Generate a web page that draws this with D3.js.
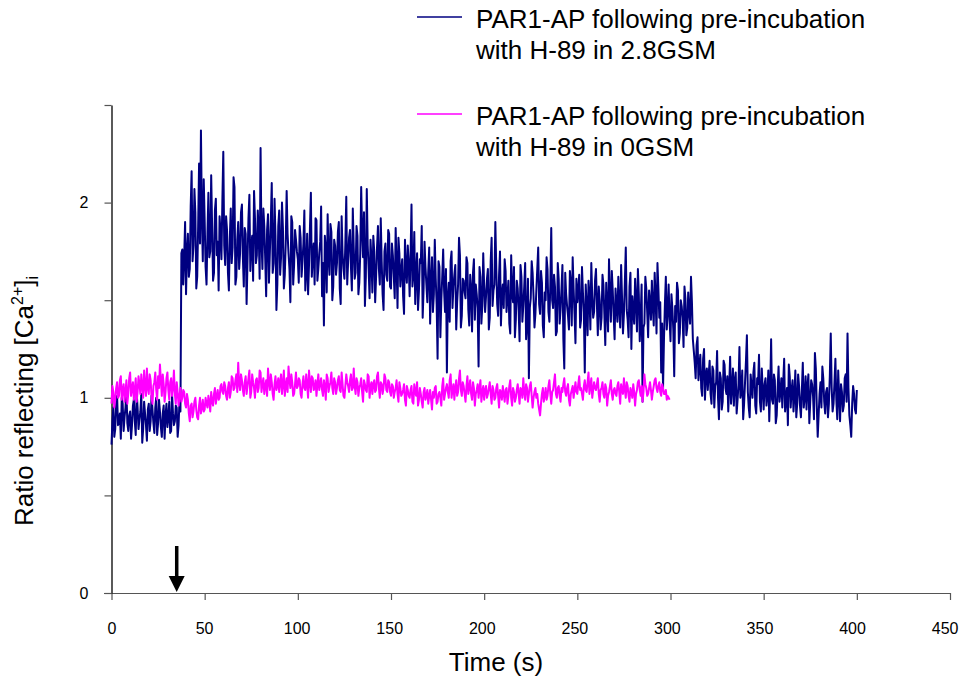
<!DOCTYPE html>
<html>
<head>
<meta charset="utf-8">
<script src="https://cdn.jsdelivr.net/npm/d3@7/dist/d3.min.js"></script>
<style>
  html, body { margin: 0; padding: 0; background: #fff; }
  svg { display: block; font-family: "Liberation Sans", Arial, sans-serif; }
</style>
</head>
<body>
<svg id="chart" width="964" height="681"></svg>
<script>
// Time axis ticks (s) and ratio ticks
const xTicks = [0, 50, 100, 150, 200, 250, 300, 350, 400, 450];
const yTicks = [0, 0.5, 1, 1.5, 2, 2.5];
const yTickLabels = ["0", "", "1", "", "2", ""];
const arrowTime = 35;     // agonist addition (s)

const seriesNames = [
  "PAR1-AP following pre-incubation|with H-89 in 2.8GSM",
  "PAR1-AP following pre-incubation|with H-89 in 0GSM"
];

// Ratio, 2.8GSM, readings at whole seconds t = 0..400
const ratio28 = [
  0.76,0.95,0.84,1.01,0.88,0.79,0.97,0.90,1.04,0.83,
  0.93,0.86,0.99,0.81,0.95,0.89,1.02,0.84,0.92,0.78,
  0.97,0.88,0.94,0.82,1.00,0.87,0.93,0.80,0.96,0.91,
  0.85,0.98,0.83,0.92,0.88,0.95,0.86,0.93,1.76,1.72,
  1.53,1.84,1.66,2.16,1.78,1.95,1.62,2.20,2.37,1.70,
  1.91,1.58,2.05,1.75,1.88,1.64,2.02,1.80,1.93,1.71,
  2.26,1.68,1.86,1.55,1.97,1.77,2.08,1.62,1.90,1.74,
  1.99,1.57,1.84,1.70,2.04,1.79,1.60,1.92,1.73,1.85,
  2.28,1.66,1.88,1.52,1.94,1.75,2.10,1.69,1.83,1.58,
  1.96,1.72,1.87,1.63,2.06,1.74,1.49,1.90,1.68,1.81,
  1.71,1.88,1.62,1.79,1.55,1.84,1.68,2.05,1.73,1.58,
  1.91,1.66,1.80,1.52,1.37,1.76,1.94,1.63,1.85,1.57,
  1.78,1.69,1.90,1.48,1.74,1.61,2.03,1.70,1.86,1.55,
  1.77,1.64,1.83,1.59,2.08,1.72,1.47,2.07,1.66,1.81,
  1.54,1.75,1.62,1.88,1.58,1.70,1.45,1.79,1.60,1.84,
  1.56,1.73,1.51,1.68,1.82,1.57,1.71,1.43,1.66,1.78,
  1.52,1.99,1.63,1.48,1.74,1.55,1.69,1.41,1.80,1.58,
  1.65,1.38,1.72,1.53,1.61,1.20,1.67,1.50,1.76,1.44,
  1.13,1.59,1.70,1.46,1.63,1.35,1.58,1.73,1.42,1.60,
  1.51,1.69,1.37,1.56,1.64,1.40,1.53,1.16,1.62,1.47,
  1.57,1.52,1.66,1.41,1.82,1.55,1.90,1.48,1.63,1.37,
  1.58,1.71,1.44,1.60,1.33,1.54,1.67,1.40,1.56,1.29,
  1.62,1.47,1.69,1.38,1.10,1.51,1.64,1.36,1.55,1.77,
  1.43,1.59,1.31,1.50,1.66,1.39,1.87,1.46,1.57,1.34,
  1.61,1.45,1.68,1.15,1.53,1.42,1.65,1.37,1.56,1.28,
  1.49,1.63,1.40,1.54,1.13,1.47,1.60,1.35,1.52,1.44,
  1.66,1.32,1.50,1.41,1.58,1.27,1.46,1.71,1.39,1.55,
  1.30,1.48,1.62,1.36,1.51,1.43,1.77,1.40,1.57,1.25,
  1.45,1.61,1.34,1.53,1.42,0.98,1.38,1.56,1.31,1.49,
  1.60,1.37,1.52,1.69,1.41,1.13,1.05,1.48,1.35,1.58,
  1.29,1.46,1.11,1.39,1.55,1.33,1.47,1.26,1.51,1.36,
  1.44,1.62,1.30,1.18,1.27,1.09,1.22,1.01,1.25,1.12,
  1.04,1.19,0.97,1.14,1.06,1.24,0.89,1.10,0.98,1.17,
  1.02,0.93,1.21,1.05,0.96,1.13,0.99,1.26,1.03,0.89,
  1.08,1.32,0.95,1.12,1.00,1.18,0.92,1.07,0.98,1.15,
  0.94,1.10,1.01,0.88,1.30,0.97,1.09,0.91,1.16,1.03,
  0.95,1.20,0.99,0.86,1.11,1.04,0.93,1.14,0.97,1.06,
  0.90,1.18,1.00,0.94,1.12,0.98,1.07,0.89,1.15,0.80,
  1.02,0.95,1.10,0.92,1.05,0.97,1.33,0.93,1.08,0.99,
  1.14,0.88,1.03,0.96,1.12,1.33,0.91,0.80,1.06,0.94,
  1.04
];
// Ratio, 2.8GSM, readings at half seconds t = 0.5..399.5
const ratio28Half = [
  0.88,0.80,0.97,0.86,0.92,1.00,0.83,0.95,0.87,0.91,
  0.79,0.96,0.88,1.03,0.84,0.93,0.77,0.98,0.86,0.94,
  0.83,1.01,0.87,0.95,0.81,0.99,0.85,0.92,0.79,0.97,
  0.90,0.82,1.02,0.86,0.96,0.80,0.99,1.74,1.58,1.90,
  1.75,1.62,1.98,1.70,2.07,1.56,1.88,1.79,1.93,2.12,
  1.67,1.84,1.72,2.14,1.60,1.96,1.73,1.55,1.85,2.01,
  1.78,1.93,1.64,1.82,1.69,2.13,1.58,1.81,1.66,1.95,
  1.72,1.87,1.48,1.92,1.65,1.83,2.06,1.69,1.96,1.61,
  1.80,1.97,1.71,1.86,1.59,1.91,1.64,2.02,1.45,1.88,
  1.63,2.00,1.56,1.79,1.84,1.66,1.93,1.58,1.86,1.75,
  1.59,1.82,1.70,1.96,1.64,1.53,1.87,1.62,1.79,1.92,
  1.60,1.74,1.98,1.69,1.83,1.54,1.71,1.89,1.50,1.81,
  1.63,1.85,1.56,1.93,1.66,1.79,1.58,1.82,1.67,1.97,
  1.61,1.88,1.53,1.74,1.85,1.95,1.62,1.78,1.51,1.71,
  1.83,1.49,1.77,1.66,1.92,1.53,1.75,1.63,1.86,1.57,
  1.79,1.62,1.87,1.46,1.74,1.65,1.52,1.81,1.59,1.69,
  1.73,1.57,1.85,1.64,1.45,1.71,1.88,1.56,1.67,1.49,
  1.77,1.59,1.44,1.81,1.48,1.70,1.31,1.62,1.55,1.66,
  1.52,1.39,1.75,1.57,1.68,1.49,1.82,1.36,1.61,1.54,
  1.72,1.45,1.63,1.34,1.71,1.58,1.46,1.67,1.38,1.74,
  1.44,1.61,1.35,1.70,1.47,1.58,1.66,1.42,1.75,1.53,
  1.46,1.65,1.52,1.38,1.73,1.49,1.31,1.60,1.45,1.68,
  1.39,1.57,1.30,1.61,1.46,1.70,1.52,1.43,1.66,1.48,
  1.65,1.37,1.54,1.72,1.44,1.58,1.50,1.63,1.32,1.69,
  1.38,1.56,1.30,1.64,1.47,1.35,1.59,1.72,1.43,1.61,
  1.55,1.36,1.67,1.44,1.58,1.32,1.53,1.69,1.41,1.60,
  1.48,1.57,1.35,1.63,1.43,1.59,1.34,1.52,1.65,1.42,
  1.56,1.39,1.46,1.68,1.33,1.59,1.45,1.31,1.64,1.52,
  1.38,1.50,1.66,1.29,1.58,1.36,1.62,1.44,1.55,1.40,
  1.47,1.64,1.33,1.56,1.49,1.38,1.30,1.62,1.44,1.40,
  1.53,1.35,1.47,1.59,1.28,1.50,1.41,1.57,1.32,1.54,
  1.38,1.49,1.24,1.10,1.31,1.16,1.05,1.20,0.99,1.15,
  1.12,1.02,1.16,0.95,1.08,1.00,1.13,0.94,1.19,1.05,
  1.11,1.06,0.97,1.15,1.09,0.92,1.07,1.00,1.14,0.97,
  1.19,1.03,0.90,1.06,1.13,0.96,1.10,1.22,0.93,1.04,
  1.07,0.96,1.14,1.04,0.99,1.12,0.87,1.05,0.98,1.10,
  1.08,0.93,1.05,1.17,0.95,1.09,1.01,0.90,1.12,0.96,
  1.04,0.95,1.11,1.06,0.87,1.09,1.01,1.23,0.96,0.91,
  1.08,1.16,0.98,1.03,0.90,1.11,1.05,0.97,1.20,0.89,
  1.01,1.07,0.93,1.10,0.98,1.05,0.86,0.97,1.02,0.92
];

// Ratio, 0GSM, readings at whole seconds t = 0..299
const ratio0 = [
  0.97,1.03,0.99,1.08,1.01,1.11,1.04,0.98,1.09,1.02,
  1.13,1.05,0.99,1.10,1.03,1.07,1.12,1.00,1.06,1.15,
  1.02,1.09,0.97,1.08,1.04,1.11,1.17,1.01,1.07,1.03,
  1.13,0.99,1.10,1.05,1.02,1.08,0.96,1.05,1.00,1.03,
  0.95,0.99,0.88,0.97,0.93,1.00,0.90,0.96,0.92,0.99,
  0.94,0.97,1.01,0.93,0.98,1.02,0.97,1.04,1.00,1.07,
  1.02,1.06,0.99,1.08,1.03,1.10,1.05,1.12,1.18,1.04,
  1.09,1.01,1.11,1.06,1.14,1.03,1.08,1.00,1.10,1.05,
  1.13,1.07,1.02,1.09,1.15,1.04,1.08,0.99,1.11,1.06,
  1.03,1.12,1.07,1.01,1.10,1.16,1.05,1.08,1.02,1.13,
  1.06,1.09,1.00,1.11,1.04,1.07,1.14,1.03,1.10,1.05,
  1.01,1.12,1.07,1.04,1.09,0.99,1.10,1.06,1.13,1.02,
  1.08,1.05,1.11,1.03,1.07,1.00,1.12,1.06,1.09,1.04,
  1.15,1.02,1.08,1.05,1.10,0.98,1.07,1.03,1.11,1.06,
  1.02,1.09,1.04,1.13,1.00,1.07,1.05,1.10,1.03,1.08,
  1.01,1.06,1.03,1.09,0.98,1.05,1.02,1.07,0.96,1.04,
  1.00,1.06,0.97,1.03,1.08,0.99,1.02,0.95,1.05,1.01,
  0.97,1.04,0.94,1.00,1.06,0.98,1.03,0.96,1.10,1.02,
  1.07,1.00,1.12,1.04,0.99,1.09,1.03,1.14,1.01,1.06,
  0.98,1.11,1.05,1.02,1.08,0.96,1.04,1.00,1.09,1.03,
  0.99,1.06,1.02,1.08,0.97,1.04,1.00,1.07,0.95,1.03,
  1.06,0.98,1.05,1.01,1.09,0.96,1.03,1.00,1.07,0.97,
  1.04,1.10,0.99,1.05,1.02,1.08,0.95,1.03,1.00,0.97,
  0.91,1.02,0.98,1.05,1.01,1.09,0.97,1.04,1.12,1.00,
  1.06,0.98,1.03,1.10,1.01,1.07,0.96,1.04,1.00,1.08,
  1.02,1.11,1.05,0.99,1.09,1.03,1.13,1.06,1.00,1.08,
  1.04,1.10,0.98,1.05,1.02,1.07,0.96,1.03,1.09,0.99,
  1.05,1.01,1.08,0.97,1.04,1.10,1.00,1.06,0.98,1.03,
  1.07,0.96,1.04,1.09,1.01,0.98,1.12,1.05,1.02,1.08,
  0.99,1.06,1.10,1.03,1.08,1.01,1.05,1.02,0.99,1.00
];
// Ratio, 0GSM, readings at half seconds t = 0.5..299.5
const ratio0Half = [
  1.06,0.95,1.05,1.00,1.09,0.99,1.07,1.03,0.97,1.10,
  1.01,1.08,1.04,0.98,1.11,1.02,1.06,1.14,1.01,1.05,
  1.12,1.00,1.06,1.13,0.99,1.05,1.09,1.12,0.98,1.10,
  1.04,1.08,1.01,1.14,0.97,1.03,1.01,0.98,1.04,0.97,
  1.02,0.92,0.96,0.90,0.98,0.94,0.89,1.00,0.95,0.93,
  1.00,0.95,0.98,1.03,0.96,1.05,1.01,0.99,1.06,1.03,
  1.08,1.01,1.05,1.00,1.11,1.04,1.09,1.03,1.07,1.12,
  1.04,1.08,1.02,1.10,1.00,1.12,1.05,1.09,1.03,1.14,
  1.03,1.10,1.06,1.01,1.08,1.12,1.02,1.07,1.04,1.10,
  1.08,1.02,1.14,1.06,1.03,1.09,1.12,1.01,1.07,1.05,
  1.10,1.02,1.07,1.05,1.12,1.00,1.08,1.11,1.04,1.09,
  1.07,1.04,1.10,1.01,1.06,1.12,1.03,1.08,1.05,1.10,
  1.02,1.09,1.04,1.13,1.01,1.06,1.08,1.03,1.12,1.05,
  1.06,1.10,1.01,1.07,1.03,1.09,1.04,1.12,1.00,1.08,
  1.07,1.03,1.11,1.05,1.08,1.02,1.12,1.04,1.09,1.03,
  1.07,1.00,1.05,1.02,1.08,1.01,1.04,0.99,1.06,1.01,
  1.04,0.98,1.07,1.01,0.96,1.05,0.98,1.03,0.99,1.04,
  1.01,0.99,1.03,1.05,0.97,1.02,1.00,1.06,0.99,1.05,
  1.03,1.09,1.00,1.07,1.05,1.01,1.10,1.04,1.08,1.02,
  1.06,1.02,1.09,0.99,1.05,1.02,1.07,1.05,0.98,1.06,
  1.04,1.00,1.05,1.02,1.06,0.99,1.05,1.01,1.04,0.99,
  1.02,1.04,0.97,1.06,1.00,1.05,0.98,1.04,1.02,1.05,
  1.00,1.03,1.07,0.98,1.06,1.01,1.00,1.05,1.02,0.94,
  0.97,1.05,1.01,0.99,1.06,1.02,1.03,1.08,1.02,1.05,
  1.01,1.05,1.07,1.03,1.05,0.99,1.02,1.06,1.04,1.03,
  1.07,1.04,1.02,1.06,1.04,1.08,1.02,1.10,1.04,1.05,
  1.07,1.02,1.04,1.08,1.00,1.05,1.01,1.06,1.02,1.04,
  1.02,1.06,1.03,1.07,1.02,1.04,1.08,1.01,1.05,1.00,
  1.03,1.02,1.08,1.04,1.06,1.03,1.07,1.01,1.05,1.04,
  1.03,1.09,1.05,1.06,1.03,1.07,1.02,1.04,1.01,0.99
];

const seriesColors = ["#000080", "#FF00FF"];

// Merge whole-second and half-second readings into one time-ordered table
function mergeReadings(whole, half) {
  const out = [];
  whole.forEach((v, i) => {
    out.push({ t: i, v: v });
    if (i < half.length) out.push({ t: i + 0.5, v: half[i] });
  });
  return out;
}
const series = [mergeReadings(ratio28, ratio28Half), mergeReadings(ratio0, ratio0Half)];

const svg = d3.select("#chart");
const x = d3.scaleLinear().domain([0, 450]).range([111.5, 950]);
const y = d3.scaleLinear().domain([0, 2.5]).range([593, 105]);

// Axes
const xAxis = d3.axisBottom(x).tickValues(xTicks).tickSize(7).tickSizeOuter(0).tickPadding(23);
const gx = svg.append("g").attr("transform", `translate(0,${y(0)})`).call(xAxis);
gx.select(".domain").remove();
gx.append("line").attr("x1", 104).attr("x2", x(450)).attr("y1", 0.5).attr("y2", 0.5)
  .attr("stroke", "#555").attr("stroke-width", 1.2);
gx.selectAll(".tick line").attr("stroke", "#555").attr("stroke-width", 1.2);
gx.selectAll(".tick text").attr("font-size", 16).attr("fill", "#000")
  .attr("dx", (d, i) => -i * 0.6)
  .attr("font-family", "Liberation Sans, Arial, sans-serif");

const yAxis = d3.axisLeft(y).tickValues(yTicks).tickSize(7).tickSizeOuter(0).tickPadding(16)
  .tickFormat((d, i) => yTickLabels[i]);
const gy = svg.append("g").attr("transform", `translate(${x(0)},0)`).call(yAxis);
gy.select(".domain").attr("stroke", "#000").attr("stroke-width", 1.3);
gy.selectAll(".tick line").attr("stroke", "#555").attr("stroke-width", 1.2);
gy.selectAll(".tick text").attr("font-size", 16).attr("fill", "#000")
  .attr("font-family", "Liberation Sans, Arial, sans-serif");

// Series
const line = d3.line().x(d => x(d.t)).y(d => y(d.v));
series.forEach((arr, k) => {
  svg.append("path").datum(arr).attr("d", line)
    .attr("fill", "none").attr("stroke", seriesColors[k])
    .attr("stroke-width", 2).attr("stroke-linejoin", "round");
});

// Arrow marking addition
const ax = x(arrowTime);
svg.append("line").attr("x1", ax).attr("x2", ax).attr("y1", y(0) - 47).attr("y2", y(0) - 15)
  .attr("stroke", "#000").attr("stroke-width", 3.5);
svg.append("path")
  .attr("d", `M${ax - 8},${y(0) - 17} L${ax + 8},${y(0) - 17} L${ax},${y(0) - 1} Z`)
  .attr("fill", "#000");

// Axis titles
svg.append("text").attr("x", 496).attr("y", 671).attr("text-anchor", "middle")
  .attr("font-size", 26).text("Time (s)");

const yt = svg.append("text").attr("transform", "translate(33,401) rotate(-90)")
  .attr("text-anchor", "middle").attr("font-size", 26);
yt.append("tspan").text("Ratio reflecting [Ca");
yt.append("tspan").attr("font-size", 16).attr("dy", -10).text("2+");
yt.append("tspan").attr("dy", 10).text("]");
yt.append("tspan").attr("font-size", 16).attr("dy", 5).text("i");

// Legend
const legendY = [17, 114];
seriesNames.forEach((name, k) => {
  const g = svg.append("g");
  g.append("line").attr("x1", 417).attr("x2", 462).attr("y1", legendY[k]).attr("y2", legendY[k])
    .attr("stroke", seriesColors[k]).attr("stroke-width", 1.5);
  const lines = name.split("|");
  lines.forEach((t, j) => {
    g.append("text").attr("x", 476).attr("y", legendY[k] + 11 + j * 31)
      .attr("font-size", 26).attr("fill", "#000").text(t);
  });
});
</script>
</body>
</html>
